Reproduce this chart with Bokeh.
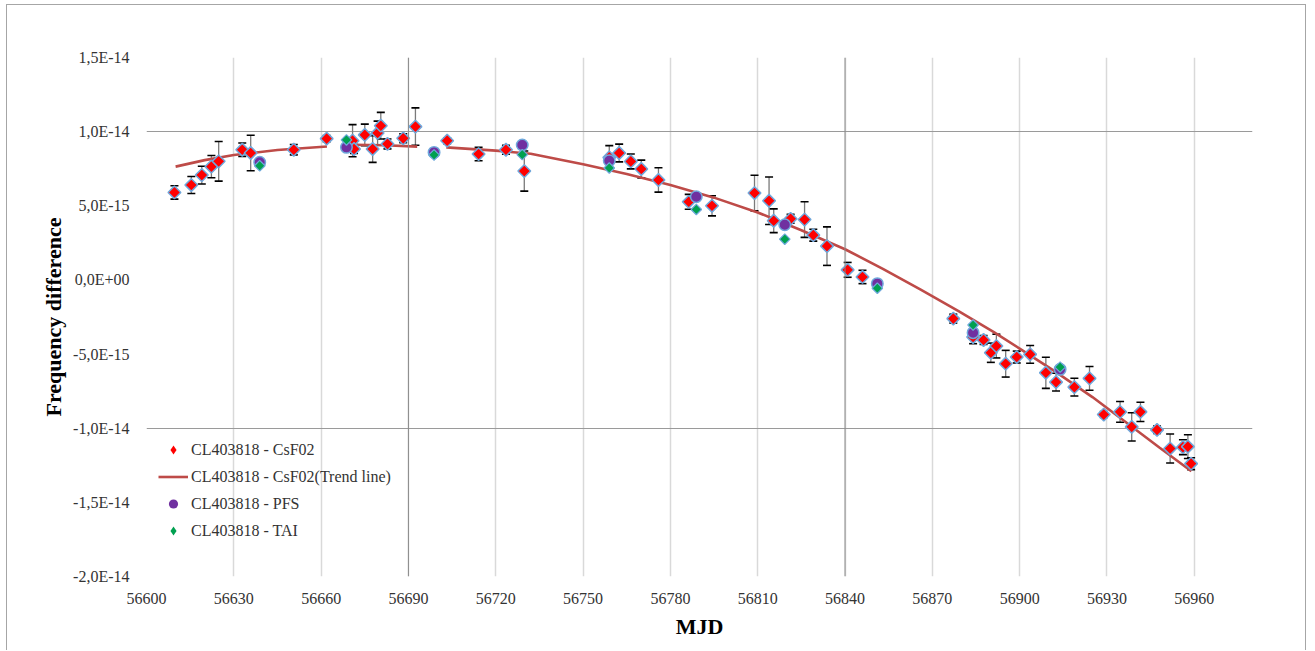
import math
import numpy as np
from bokeh.plotting import figure
from bokeh.models import ColumnDataSource, FixedTicker, Span, Legend, LegendItem, Range1d
from bokeh.embed import file_html
from bokeh.resources import INLINE

# ---------------- data (frequency values in units of 1e-15) ----------------
csf02_mjd = [56609.6, 56615.4, 56619.0, 56622.3, 56624.8, 56632.9, 56635.8, 56650.6, 56661.9,
             56670.8, 56671.3, 56675.0, 56677.7, 56679.4, 56680.5, 56682.8, 56688.2, 56692.4,
             56703.3, 56714.1, 56723.5, 56729.8, 56759.0, 56762.4, 56766.4, 56770.0, 56775.9,
             56786.3, 56794.3, 56808.9, 56813.9, 56815.5, 56821.3, 56826.1, 56829.1, 56833.8,
             56840.9, 56846.0, 56877.2, 56884.0, 56887.6, 56890.1, 56892.0, 56895.2, 56899.0,
             56903.6, 56909.0, 56912.5, 56918.8, 56924.0, 56928.9, 56934.5, 56938.5, 56941.5,
             56947.2, 56951.7, 56956.1, 56957.8, 56958.9]
csf02_val = [5.90, 6.40, 7.07, 7.64, 8.00, 8.78, 8.56, 8.78, 9.53,
             9.39, 8.83, 9.78, 8.83, 9.91, 10.40, 9.17, 9.55, 10.34,
             9.39, 8.49, 8.78, 7.34, 8.26, 8.56, 7.99, 7.48, 6.74,
             5.27, 5.00, 5.86, 5.34, 3.99, 4.12, 4.07, 3.02, 2.28,
             0.68, 0.20, -2.61, -3.85, -4.05, -4.91, -4.46, -5.65, -5.20,
             -5.02, -6.26, -6.89, -7.23, -6.64, -9.08, -8.90, -9.91, -8.90,
             -10.11, -11.37, -11.28, -11.24, -12.39]
csf02_err = [0.45, 0.57, 0.60, 0.75, 1.34, 0.45, 1.20, 0.35, 0.20,
             1.08, 0.30, 0.73, 0.90, 0.80, 0.90, 0.33, 0.30, 1.26,
             0.20, 0.45, 0.30, 1.35, 0.80, 0.60, 0.50, 0.60, 0.82,
             0.50, 0.68, 1.20, 1.60, 0.80, 0.30, 1.20, 0.40, 1.30,
             0.50, 0.45, 0.30, 0.45, 0.30, 0.65, 0.80, 0.90, 0.40,
             0.60, 1.05, 0.60, 0.60, 0.80, 0.20, 0.70, 0.95, 0.65,
             0.25, 0.98, 0.50, 0.80, 0.40]

pfs_mjd = [56638.9, 56668.7, 56698.8, 56729.1, 56759.0, 56788.9, 56819.3, 56851.1, 56884.0, 56913.9]
pfs_val = [7.93, 8.94, 8.60, 9.10, 8.04, 5.61, 3.72, -0.25, -3.56, -6.03]

tai_mjd = [56638.9, 56668.7, 56698.8, 56729.1, 56759.0, 56788.9, 56819.3, 56851.1, 56884.0, 56913.9]
tai_val = [7.70, 9.44, 8.43, 8.45, 7.55, 4.75, 2.75, -0.56, -3.04, -5.88]

nan = float("nan")
trend_mjd = [56610, 56620, 56630, 56645, 56662, nan, 56671, 56682, 56693, nan,
             56703, 56720, 56732, 56750, 56765, 56780, 56795, 56810, 56825, 56840,
             56853, 56866, 56879, 56891, 56900, 56912, 56925, 56938, 56948, 56959]
trend_val = [7.64, 8.08, 8.42, 8.76, 9.00, nan, 9.12, 9.08, 8.99, nan,
             8.94, 8.72, 8.51, 7.80, 7.15, 6.40, 5.55, 4.55, 3.35, 2.07,
             0.75, -0.66, -2.10, -3.50, -4.63, -6.15, -7.90, -9.82, -11.30, -12.90]

x_ticks = [56600, 56630, 56660, 56690, 56720, 56750, 56780, 56810, 56840, 56870, 56900, 56930, 56960]
x_tick_labels = ["56600", "56630", "56660", "56690", "56720", "56750", "56780", "56810",
                 "56840", "56870", "56900", "56930", "56960"]
y_ticks = [1.5e-14, 1.0e-14, 5.0e-15, 0.0, -5.0e-15, -1.0e-14, -1.5e-14, -2.0e-14]
y_tick_labels = ["1,5E-14", "1,0E-14", "5,0E-15", "0,0E+00", "-5,0E-15", "-1,0E-14",
                 "-1,5E-14", "-2,0E-14"]

series_names = ["CL403818 - CsF02", "CL403818 - CsF02(Trend line)", "CL403818 - PFS", "CL403818 - TAI"]

SCALE = 1e-15
FONT = "Liberation Serif"

# ---------------- figure ----------------
p = figure(width=1300, height=646, output_backend="svg", toolbar_location=None,
           x_range=Range1d(56600, 56980), y_range=Range1d(-2.0e-14, 1.5e-14),
           min_border_left=139, min_border_right=55, min_border_top=52, min_border_bottom=75)
p.styles = {"border-top": "1px solid #A6A6A6", "border-left": "1px solid #A6A6A6",
            "border-right": "1px solid #A6A6A6", "margin-left": "6px", "margin-top": "4px"}
p.outline_line_color = None
p.background_fill_color = "white"
p.border_fill_color = "white"

# grids
p.xgrid.ticker = FixedTicker(ticks=x_ticks)
p.xgrid.grid_line_color = "#D9D9D9"
p.xgrid.grid_line_width = 1.5
p.ygrid.ticker = FixedTicker(ticks=[1.5e-14, 1.0e-14, -1.0e-14])
p.ygrid.grid_line_color = "#9A9A9A"
p.ygrid.grid_line_width = 1.2
for xv in (56690, 56840):
    p.add_layout(Span(location=xv, dimension="height", line_color="#8C8C8C", line_width=1))

# axes
p.xaxis.ticker = FixedTicker(ticks=x_ticks)
p.xaxis.major_label_overrides = dict(zip(x_ticks, x_tick_labels))
p.yaxis.ticker = FixedTicker(ticks=y_ticks)
p.yaxis.major_label_overrides = dict(zip(y_ticks, y_tick_labels))
for ax in (p.xaxis[0], p.yaxis[0]):
    ax.axis_line_color = None
    ax.major_tick_line_color = None
    ax.minor_tick_line_color = None
    ax.major_tick_out = 0
    ax.major_tick_in = 0
    ax.major_label_text_font = FONT
    ax.major_label_text_font_size = "16px"
    ax.major_label_text_color = "#333333"
    ax.axis_label_text_font = FONT
    ax.axis_label_text_font_size = "22px"
    ax.axis_label_text_font_style = "bold"
    ax.axis_label_text_color = "black"
p.xaxis.axis_label = "MJD"
p.yaxis.axis_label = "Frequency difference"
p.xaxis.major_label_standoff = 16
p.xaxis.axis_label_standoff = 7
p.yaxis.major_label_standoff = 17
p.yaxis.axis_label_standoff = 4

# ---------------- data sources ----------------
cx = np.array(csf02_mjd)
cy = np.array(csf02_val) * SCALE
ce = np.array(csf02_err) * SCALE
src_c = ColumnDataSource(dict(x=cx, y=cy, lo=cy - ce, hi=cy + ce))
src_p = ColumnDataSource(dict(x=pfs_mjd, y=np.array(pfs_val) * SCALE))
src_t = ColumnDataSource(dict(x=tai_mjd, y=np.array(tai_val) * SCALE))
src_tr = ColumnDataSource(dict(x=trend_mjd, y=np.array(trend_val) * SCALE))

# error bars
p.segment(x0="x", y0="lo", x1="x", y1="hi", source=src_c, line_color="#7A7A7A", line_width=1.3)
p.scatter(x="x", y="hi", source=src_c, marker="dash", size=8, line_color="black", line_width=1.6)
p.scatter(x="x", y="lo", source=src_c, marker="dash", size=8, line_color="black", line_width=1.6)

# trend line
r_trend = p.line(x="x", y="y", source=src_tr, line_color="#BE4B48", line_width=2.6)

OUTLINE = "#6FA8DC"
r_c = p.scatter(x="x", y="y", source=src_c, marker="square", angle=math.pi / 4, size=9,
                fill_color="#FF0000", line_color=OUTLINE, line_width=1.5)
r_p = p.scatter(x="x", y="y", source=src_p, marker="circle", size=11.5,
                fill_color="#7030A0", line_color=OUTLINE, line_width=1.5)
r_t = p.scatter(x="x", y="y", source=src_t, marker="square", angle=math.pi / 4, size=7.5,
                fill_color="#00A050", line_color=OUTLINE, line_width=1.2)

# legend proxies: a single undefined (NaN) point each, so only the legend glyph is drawn
proxy = dict(x=[nan], y=[nan])
l_c = p.scatter(x="x", y="y", source=ColumnDataSource(proxy), marker="diamond",
                size=9, fill_color="#FF0000", line_color=None)
l_p = p.scatter(x="x", y="y", source=ColumnDataSource(proxy), marker="circle", size=9,
                fill_color="#7030A0", line_color=None)
l_t = p.scatter(x="x", y="y", source=ColumnDataSource(proxy), marker="diamond",
                size=9, fill_color="#00A050", line_color=None)

legend = Legend(items=[LegendItem(label=series_names[0], renderers=[l_c]),
                       LegendItem(label=series_names[1], renderers=[r_trend]),
                       LegendItem(label=series_names[2], renderers=[l_p]),
                       LegendItem(label=series_names[3], renderers=[l_t])],
                location=(12, 32), glyph_width=30, glyph_height=23, label_height=27,
                spacing=0, padding=0, margin=0, label_standoff=3,
                label_text_font=FONT, label_text_font_size="16px", label_text_color="#333333",
                border_line_color=None, background_fill_alpha=0)
p.add_layout(legend)

open("out.html", "w").write(file_html(p, INLINE))
